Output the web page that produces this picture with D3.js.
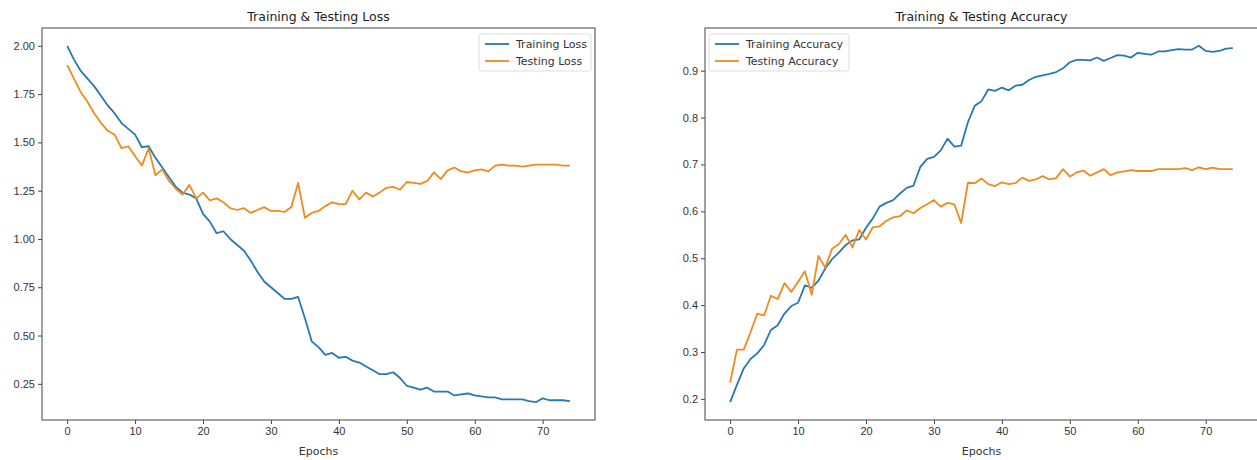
<!DOCTYPE html>
<html>
<head>
<meta charset="utf-8">
<script src="https://cdn.jsdelivr.net/npm/d3@7"></script>
<style>
  body { margin: 0; background: #fff; }
  svg { display: block; font-family: "DejaVu Sans", sans-serif; }
  .tick text { fill: #333; font-size: 11px; }
  .tick line { stroke: #444; }
  .domain { display: none; }
</style>
</head>
<body>
<svg id="chart" width="1257" height="460"></svg>
<script>
// epochs 0..74
const epochs = d3.range(0, 75);

const trainLoss = [2.00, 1.93, 1.87, 1.83, 1.79, 1.74, 1.69, 1.65, 1.60, 1.57,
  1.54, 1.475, 1.48, 1.42, 1.37, 1.32, 1.27, 1.24, 1.23, 1.21,
  1.13, 1.09, 1.03, 1.04, 1.00, 0.97, 0.94, 0.89, 0.83, 0.78,
  0.75, 0.72, 0.69, 0.69, 0.70, 0.59, 0.47, 0.44, 0.40, 0.41,
  0.385, 0.39, 0.37, 0.36, 0.34, 0.32, 0.30, 0.30, 0.31, 0.28,
  0.24, 0.23, 0.22, 0.23, 0.21, 0.21, 0.21, 0.19, 0.195, 0.20,
  0.19, 0.185, 0.18, 0.18, 0.17, 0.17, 0.17, 0.17, 0.16, 0.155,
  0.175, 0.165, 0.165, 0.165, 0.16];

const testLoss = [1.90, 1.83, 1.76, 1.71, 1.65, 1.60, 1.56, 1.54, 1.47, 1.48,
  1.43, 1.38, 1.47, 1.33, 1.36, 1.30, 1.26, 1.23, 1.28, 1.21,
  1.24, 1.20, 1.21, 1.19, 1.16, 1.15, 1.16, 1.135, 1.15, 1.165,
  1.145, 1.145, 1.14, 1.165, 1.29, 1.11, 1.135, 1.145, 1.17, 1.19,
  1.18, 1.18, 1.25, 1.205, 1.24, 1.22, 1.24, 1.265, 1.27, 1.255,
  1.295, 1.29, 1.285, 1.30, 1.345, 1.31, 1.355, 1.37, 1.35, 1.345,
  1.355, 1.36, 1.35, 1.38, 1.385, 1.38, 1.38, 1.375, 1.38, 1.385,
  1.385, 1.385, 1.385, 1.38, 1.38];

const trainAcc = [0.193, 0.23, 0.265, 0.285, 0.297, 0.315, 0.347, 0.357, 0.382, 0.398,
  0.405, 0.442, 0.437, 0.452, 0.478, 0.498, 0.512, 0.528, 0.538, 0.54,
  0.565, 0.585, 0.61, 0.618, 0.624, 0.638, 0.65, 0.655, 0.695, 0.712,
  0.716, 0.73, 0.755, 0.738, 0.74, 0.79, 0.825, 0.835, 0.86, 0.857,
  0.864, 0.858, 0.868, 0.87, 0.88, 0.887, 0.89, 0.893, 0.897, 0.905,
  0.918, 0.923, 0.923, 0.922, 0.928, 0.921, 0.927, 0.933, 0.932, 0.928,
  0.938, 0.936, 0.934, 0.941, 0.941, 0.944, 0.946, 0.945, 0.945, 0.953,
  0.942, 0.94, 0.942, 0.947, 0.948];

const testAcc = [0.235, 0.305, 0.305, 0.342, 0.382, 0.378, 0.42, 0.413, 0.447, 0.428,
  0.45, 0.472, 0.422, 0.505, 0.48, 0.52, 0.53, 0.55, 0.523, 0.56,
  0.54, 0.566, 0.568, 0.58, 0.587, 0.59, 0.602, 0.596, 0.607, 0.615,
  0.624, 0.61, 0.618, 0.615, 0.575, 0.661, 0.66, 0.67, 0.658, 0.654,
  0.662, 0.658, 0.66, 0.672, 0.665, 0.668, 0.675, 0.668, 0.671, 0.69,
  0.674, 0.683, 0.687, 0.676, 0.683, 0.69, 0.677, 0.683, 0.685, 0.688,
  0.686, 0.686, 0.686, 0.69, 0.69, 0.69, 0.69, 0.692, 0.688, 0.694,
  0.69, 0.693, 0.69, 0.69, 0.69];

const xTicks = [0, 10, 20, 30, 40, 50, 60, 70];
const lossTicks = [0.25, 0.50, 0.75, 1.00, 1.25, 1.50, 1.75, 2.00];
const accTicks = [0.2, 0.3, 0.4, 0.5, 0.6, 0.7, 0.8, 0.9];

const BLUE = "#2878b0";
const ORANGE = "#f08a1e";

const svg = d3.select("#chart");

// matplotlib style 5% padding on the data extent
const padded = (ext) => {
  const m = (ext[1] - ext[0]) * 0.05;
  return [ext[0] - m, ext[1] + m];
};

function drawPanel(opts) {
  const { left, right, top, bottom, title, series, yTicks, yFmt, legendPos } = opts;
  const g = svg.append("g");

  const x = d3.scaleLinear().domain(padded(d3.extent(epochs))).range([left, right]);
  const allY = series.flatMap((s) => s.values);
  const y = d3.scaleLinear().domain(padded(d3.extent(allY))).range([bottom, top]);

  // axes
  g.append("g")
    .attr("transform", `translate(0,${bottom})`)
    .call(d3.axisBottom(x).tickValues(xTicks).tickSize(4).tickPadding(3).tickFormat(d3.format("d")));
  g.append("g")
    .attr("transform", `translate(${left},0)`)
    .call(d3.axisLeft(y).tickValues(yTicks).tickSize(4).tickPadding(3).tickFormat(yFmt));

  // lines
  const line = d3.line().x((d, i) => x(epochs[i])).y((d) => y(d));
  series.forEach((s) => {
    g.append("path")
      .datum(s.values)
      .attr("fill", "none")
      .attr("stroke", s.color)
      .attr("stroke-width", 1.8)
      .attr("stroke-linejoin", "round")
      .attr("d", line);
  });

  // frame
  g.append("rect")
    .attr("x", left).attr("y", top)
    .attr("width", right - left).attr("height", bottom - top)
    .attr("fill", "none").attr("stroke", "#555").attr("stroke-width", 1.1);

  // title + x label
  g.append("text")
    .attr("x", (left + right) / 2).attr("y", 21)
    .attr("text-anchor", "middle").attr("font-size", 12.5).attr("fill", "#222")
    .text(title);
  g.append("text")
    .attr("x", (left + right) / 2).attr("y", 455)
    .attr("text-anchor", "middle").attr("font-size", 11).attr("fill", "#333")
    .text("Epochs");

  // legend
  const lg = g.append("g").attr("transform", `translate(${legendPos.x},${legendPos.y})`);
  lg.append("rect")
    .attr("width", legendPos.w).attr("height", 37)
    .attr("rx", 2).attr("fill", "#fff").attr("stroke", "#ddd");
  series.forEach((s, i) => {
    const yy = 10 + i * 17;
    lg.append("line")
      .attr("x1", 6).attr("x2", 30).attr("y1", yy).attr("y2", yy)
      .attr("stroke", s.color).attr("stroke-width", 1.8);
    lg.append("text")
      .attr("x", 37).attr("y", yy + 4)
      .attr("font-size", 11).attr("fill", "#333")
      .text(s.name);
  });
}

drawPanel({
  left: 42, right: 595, top: 28, bottom: 420,
  title: "Training & Testing Loss",
  series: [
    { name: "Training Loss", values: trainLoss, color: BLUE },
    { name: "Testing Loss", values: testLoss, color: ORANGE },
  ],
  yTicks: lossTicks,
  yFmt: d3.format(".2f"),
  legendPos: { x: 479, y: 34, w: 112 },
});

drawPanel({
  left: 705, right: 1258, top: 28, bottom: 420,
  title: "Training & Testing Accuracy",
  series: [
    { name: "Training Accuracy", values: trainAcc, color: BLUE },
    { name: "Testing Accuracy", values: testAcc, color: ORANGE },
  ],
  yTicks: accTicks,
  yFmt: d3.format(".1f"),
  legendPos: { x: 709, y: 34, w: 140 },
});
</script>
</body>
</html>
